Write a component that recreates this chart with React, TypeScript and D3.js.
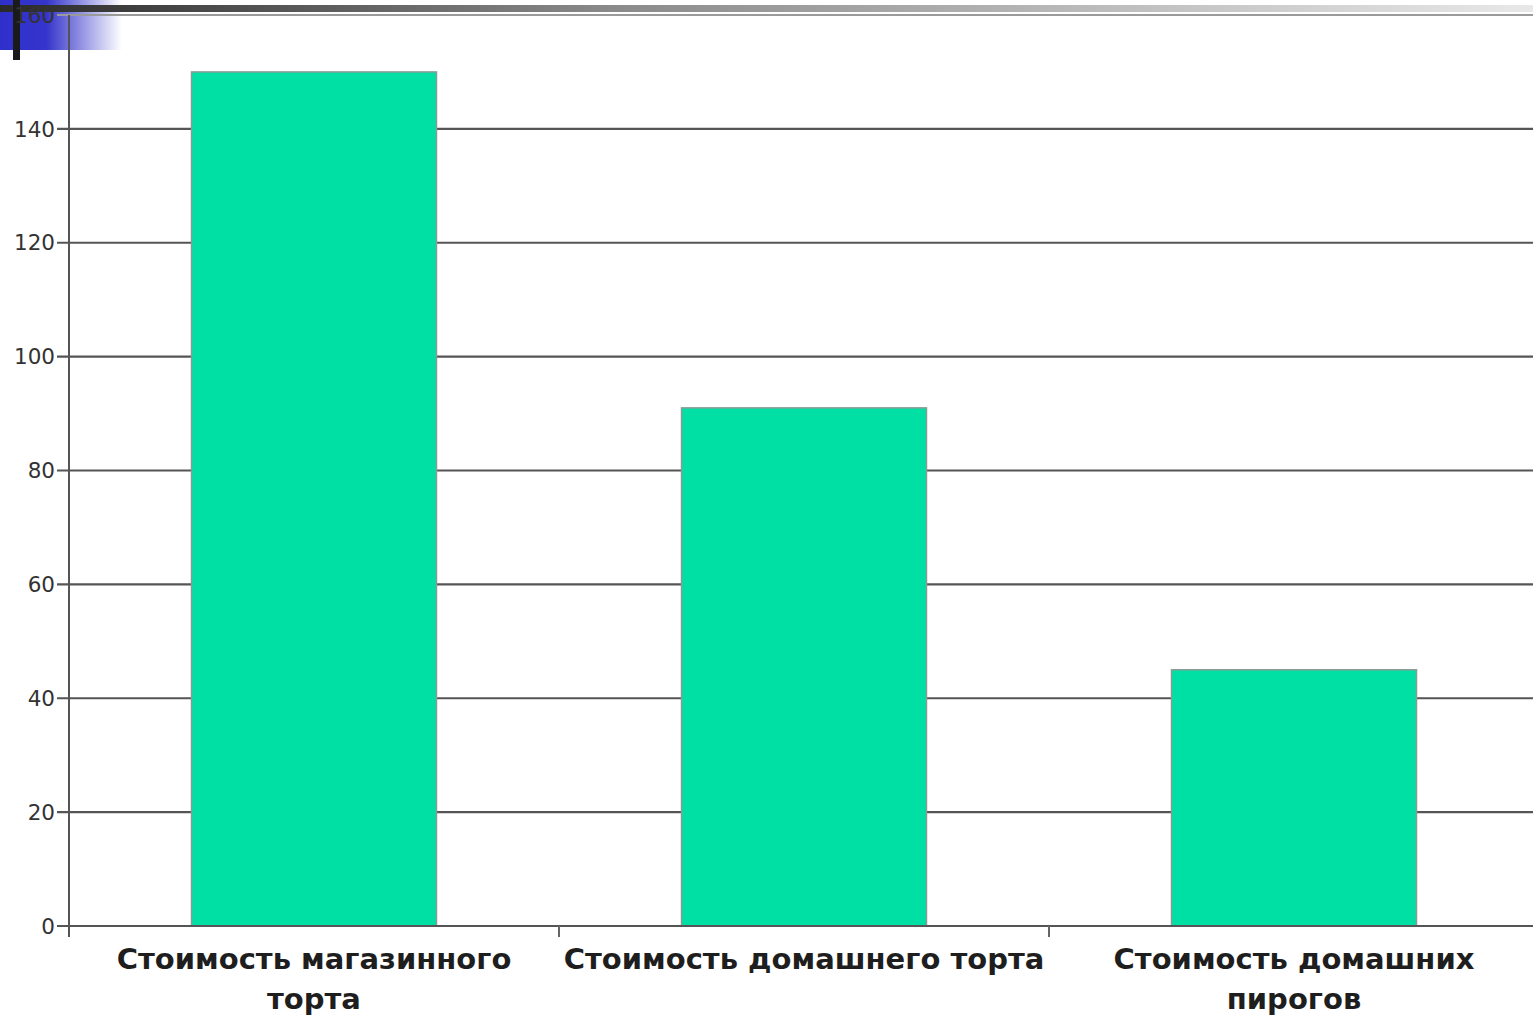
import { useEffect, useRef } from 'react'
import * as d3 from 'd3'

// categories (each label already split into lines) and values
const categories = ['Стоимость магазинного торта', 'Стоимость домашнего торта', 'Стоимость домашних пирогов']
const labelLines = [
  ['Стоимость магазинного', 'торта'],
  ['Стоимость домашнего торта'],
  ['Стоимость домашних', 'пирогов'],
]
const values = [150, 91, 45]
const yTicks = [0, 20, 40, 60, 80, 100, 120, 140, 160]

const W = 1533
const H = 1016

export default function App() {
  const svgRef = useRef<SVGSVGElement>(null)

  useEffect(() => {
    const svg = d3.select(svgRef.current)
    svg.selectAll('*').remove()

    const axisX = 69
    const y0 = 926
    const yTop = 15

    const x = d3.scaleBand<string>()
      .domain(categories)
      .range([axisX, 1539])
      .paddingInner(0.5)
      .paddingOuter(0.25)

    const y = d3.scaleLinear().domain([0, 160]).range([y0, yTop])

    const defs = svg.append('defs')
    const topGrad = defs.append('linearGradient').attr('id', 'topbar')
    topGrad.append('stop').attr('offset', '0%').attr('stop-color', '#2a2a2a')
    topGrad.append('stop').attr('offset', '40%').attr('stop-color', '#8a8a8a')
    topGrad.append('stop').attr('offset', '100%').attr('stop-color', '#e8e8e8')
    const blueGrad = defs.append('linearGradient').attr('id', 'bluebox')
    blueGrad.append('stop').attr('offset', '0%').attr('stop-color', '#2f2fcc')
    blueGrad.append('stop').attr('offset', '38%').attr('stop-color', '#3535cc')
    blueGrad.append('stop').attr('offset', '100%').attr('stop-color', '#ffffff')

    svg.append('rect').attr('width', W).attr('height', H).attr('fill', '#ffffff')

    // slide decoration
    svg.append('rect').attr('x', 0).attr('y', 0).attr('width', 122).attr('height', 50).attr('fill', 'url(#bluebox)')
    svg.append('rect').attr('x', 0).attr('y', 5).attr('width', W).attr('height', 7).attr('fill', 'url(#topbar)')
    svg.append('rect').attr('x', 13).attr('y', 0).attr('width', 7).attr('height', 60).attr('fill', '#1a1a1a')

    // gridlines + y ticks
    const grid = svg.append('g')
    grid.selectAll('line')
      .data(yTicks)
      .join('line')
      .attr('x1', 57)
      .attr('x2', W)
      .attr('y1', d => y(d))
      .attr('y2', d => y(d))
      .attr('stroke', d => (d === 160 ? '#9a9a9a' : '#555'))
      .attr('stroke-width', 2.2)

    svg.append('g')
      .selectAll('text')
      .data(yTicks)
      .join('text')
      .attr('x', 55)
      .attr('y', d => y(d))
      .attr('dy', '0.36em')
      .attr('text-anchor', 'end')
      .attr('font-family', 'DejaVu Sans, sans-serif')
      .attr('font-size', 21.5)
      .attr('fill', '#333')
      .text(d => d)

    // bars
    svg.append('g')
      .selectAll('rect')
      .data(values)
      .join('rect')
      .attr('x', (d, i) => x(categories[i]) || 0)
      .attr('y', d => y(d))
      .attr('width', x.bandwidth())
      .attr('height', d => y0 - y(d))
      .attr('fill', '#00e0a4')
      .attr('stroke', '#8a9a94')
      .attr('stroke-width', 1.5)

    // axes
    svg.append('line')
      .attr('x1', axisX).attr('x2', axisX)
      .attr('y1', yTop).attr('y2', y0 + 11)
      .attr('stroke', '#555').attr('stroke-width', 2)
    svg.append('line')
      .attr('x1', 57).attr('x2', W)
      .attr('y1', y0).attr('y2', y0)
      .attr('stroke', '#555').attr('stroke-width', 2.2)

    const step = x.step()
    svg.append('g')
      .selectAll('line')
      .data(categories.slice(1))
      .join('line')
      .attr('x1', d => (x(d) || 0) - step * 0.25)
      .attr('x2', d => (x(d) || 0) - step * 0.25)
      .attr('y1', y0)
      .attr('y2', y0 + 11)
      .attr('stroke', '#666')
      .attr('stroke-width', 2)

    // category labels
    const labels = svg.append('g')
    categories.forEach((c, i) => {
      const cx = (x(c) || 0) + x.bandwidth() / 2
      const t = labels.append('text')
        .attr('x', cx)
        .attr('y', 969)
        .attr('text-anchor', 'middle')
        .attr('font-family', 'DejaVu Sans, sans-serif')
        .attr('font-weight', 'bold')
        .attr('font-size', 29)
        .attr('fill', '#1e1e1e')
      labelLines[i].forEach((line, j) => {
        t.append('tspan').attr('x', cx).attr('dy', j === 0 ? 0 : 40).text(line)
      })
    })
  }, [])

  return (
    <svg
      ref={svgRef}
      width={W}
      height={H}
      style={{ position: 'absolute', left: 0, top: 0, display: 'block' }}
    />
  )
}
